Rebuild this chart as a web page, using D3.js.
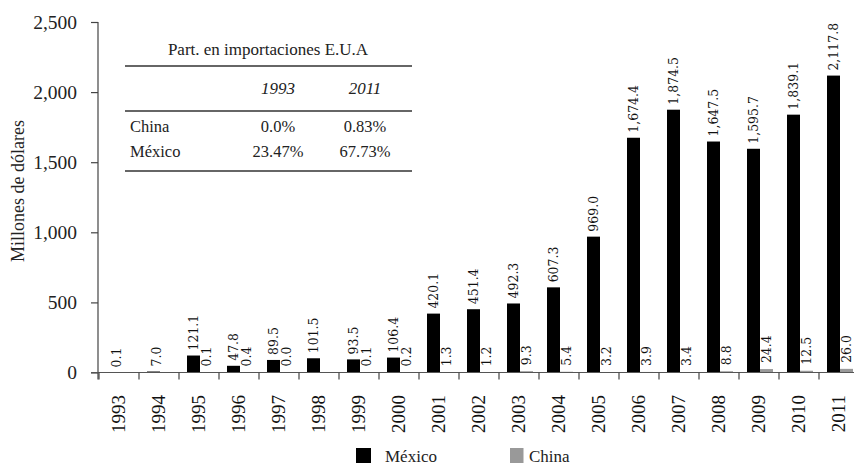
<!DOCTYPE html>
<html>
<head>
<meta charset="utf-8">
<script src="https://cdnjs.cloudflare.com/ajax/libs/d3/7.8.5/d3.min.js"></script>
<style>
  body { margin: 0; background: #fff; }
  svg { display: block; }
</style>
</head>
<body>
<svg id="chart"></svg>
<script>
var width = 854;
var height = 465;

// data
var years = ["1993","1994","1995","1996","1997","1998","1999","2000","2001","2002",
             "2003","2004","2005","2006","2007","2008","2009","2010","2011"];
var mexico = [0.1, 7.0, 121.1, 47.8, 89.5, 101.5, 93.5, 106.4, 420.1, 451.4,
              492.3, 607.3, 969.0, 1674.4, 1874.5, 1647.5, 1595.7, 1839.1, 2117.8];
var china = [null, null, 0.1, 0.4, 0.0, null, 0.1, 0.2, 1.3, 1.2,
             9.3, 5.4, 3.2, 3.9, 3.4, 8.8, 24.4, 12.5, 26.0];
var yTicks = [0, 500, 1000, 1500, 2000, 2500];

var tableTitle = "Part. en importaciones E.U.A";
var tableYears = ["1993", "2011"];
var tableRows = ["China", "México"];
var share1993 = ["0.0%", "23.47%"];
var share2011 = ["0.83%", "67.73%"];

var seriesNames = ["México", "China"];
var seriesColors = ["#000000", "#999999"];

var serif = "'Liberation Serif', 'Times New Roman', serif";
var labelFont = "'DejaVu Serif', serif";

var svg = d3.select("#chart")
    .attr("width", width)
    .attr("height", height);

svg.append("rect").attr("width", width).attr("height", height).attr("fill", "#fff");

var y = d3.scaleLinear().domain([0, 2500]).range([372.5, 22]);
var xStep = d3.scaleBand().domain(years).range([99, 859]);
var xInner = d3.scaleBand().domain(["mx", "cn"]).range([8, 34]);
var fmt = d3.format(",.1f");

// y axis
var yAxis = svg.append("g")
    .attr("transform", "translate(98,0)")
    .call(d3.axisLeft(y).tickValues(yTicks).tickFormat(d3.format(",")).tickSize(7).tickPadding(14));
yAxis.select(".domain").attr("d", "M0," + y(2500) + "V" + (y(0) + 7)).attr("stroke", "#444").attr("stroke-width", 1.2);
yAxis.selectAll(".tick line").attr("stroke", "#444").attr("stroke-width", 1.2);
yAxis.selectAll(".tick text")
    .style("font-family", serif)
    .style("font-size", "19.5px")
    .attr("fill", "#222");

svg.append("text")
    .attr("transform", "translate(24," + 191 + ") rotate(-90)")
    .attr("text-anchor", "middle")
    .style("font-family", serif)
    .style("font-size", "18px")
    .attr("fill", "#222")
    .text("Millones de dólares");

// bars
var groups = svg.selectAll(".yr")
    .data(years)
    .enter().append("g")
    .attr("transform", function(d){ return "translate(" + xStep(d) + ",0)"; });

groups.append("rect")
    .attr("x", xInner("mx"))
    .attr("width", xInner.bandwidth())
    .attr("y", function(d, i){ return y(mexico[i]); })
    .attr("height", function(d, i){ return y(0) - y(mexico[i]); })
    .attr("fill", seriesColors[0]);

groups.filter(function(d, i){ return china[i] !== null; })
    .append("rect")
    .attr("x", xInner("cn"))
    .attr("width", xInner.bandwidth())
    .attr("y", function(d){ return y(china[years.indexOf(d)]); })
    .attr("height", function(d){ return y(0) - y(china[years.indexOf(d)]); })
    .attr("fill", seriesColors[1]);

// x axis line + ticks
svg.append("line")
    .attr("x1", 91).attr("x2", width)
    .attr("y1", y(0)).attr("y2", y(0))
    .attr("stroke", "#555").attr("stroke-width", 1.2);

svg.selectAll(".xtick")
    .data(years)
    .enter().append("line")
    .attr("x1", function(d){ return xStep(d); })
    .attr("x2", function(d){ return xStep(d); })
    .attr("y1", y(0)).attr("y2", y(0) + 7)
    .attr("stroke", "#444").attr("stroke-width", 1.2);

// value labels
groups.append("text")
    .attr("transform", function(d, i){
        // the first two years have no China bar, their label sits a bit further right
        var cx = xInner("mx") + xInner.bandwidth() / 2 + (china[i] === null && i < 2 ? 3 : 0);
        return "translate(" + cx + "," + (y(mexico[i]) - 5) + ") rotate(-90)";
    })
    .attr("dy", "0.36em")
    .style("font-family", labelFont)
    .style("font-size", "12.5px")
    .attr("fill", "#111")
    .text(function(d, i){ return fmt(mexico[i]); });

groups.filter(function(d, i){ return china[i] !== null; })
    .append("text")
    .attr("transform", function(d){
        var v = china[years.indexOf(d)];
        return "translate(" + (xInner("cn") + xInner.bandwidth() / 2) + "," + (Math.min(y(v), y(0)) - 6) + ") rotate(-90)";
    })
    .attr("dy", "0.36em")
    .style("font-family", labelFont)
    .style("font-size", "12.5px")
    .attr("fill", "#111")
    .text(function(d){ return fmt(china[years.indexOf(d)]); });

// year labels
groups.append("text")
    .attr("transform", "translate(" + (xStep.bandwidth() / 2 - 1) + ",395) rotate(-90)")
    .attr("text-anchor", "end")
    .attr("dy", "0.35em")
    .style("font-family", serif)
    .style("font-size", "19px")
    .attr("fill", "#111")
    .text(function(d){ return d; });

// inset table
var table = svg.append("g");
table.append("text")
    .attr("x", 268).attr("y", 55)
    .attr("text-anchor", "middle")
    .style("font-family", serif).style("font-size", "17px").attr("fill", "#222")
    .text(tableTitle);

[66, 111, 171].forEach(function(ly){
    table.append("line")
        .attr("x1", 125).attr("x2", 412)
        .attr("y1", ly).attr("y2", ly)
        .attr("stroke", "#333").attr("stroke-width", 1.3);
});

var colX = [278, 365];
table.selectAll(".th")
    .data(tableYears)
    .enter().append("text")
    .attr("x", function(d, i){ return colX[i]; })
    .attr("y", 94)
    .attr("text-anchor", "middle")
    .style("font-family", serif).style("font-size", "17px").style("font-style", "italic").attr("fill", "#222")
    .text(function(d){ return d; });

var rowY = [131.5, 157];
table.selectAll(".rn")
    .data(tableRows)
    .enter().append("text")
    .attr("x", 130)
    .attr("y", function(d, i){ return rowY[i]; })
    .style("font-family", serif).style("font-size", "16.5px").attr("fill", "#222")
    .text(function(d){ return d; });

[share1993, share2011].forEach(function(col, c){
    table.selectAll(".c" + c)
        .data(col)
        .enter().append("text")
        .attr("x", colX[c])
        .attr("y", function(d, i){ return rowY[i]; })
        .attr("text-anchor", "middle")
        .style("font-family", serif).style("font-size", "16.5px").attr("fill", "#222")
        .text(function(d){ return d; });
});

// legend
var legX = [356, 510];
var legTextX = [385, 529];
var legend = svg.selectAll(".leg")
    .data(seriesNames)
    .enter().append("g");
legend.append("rect")
    .attr("x", function(d, i){ return legX[i]; })
    .attr("y", 448)
    .attr("width", function(d, i){ return i === 0 ? 15 : 13.5; })
    .attr("height", 15)
    .attr("fill", function(d, i){ return seriesColors[i]; });
legend.append("text")
    .attr("x", function(d, i){ return legTextX[i]; })
    .attr("y", 462)
    .style("font-family", serif).style("font-size", "17px").attr("fill", "#222")
    .text(function(d){ return d; });
</script>
</body>
</html>
